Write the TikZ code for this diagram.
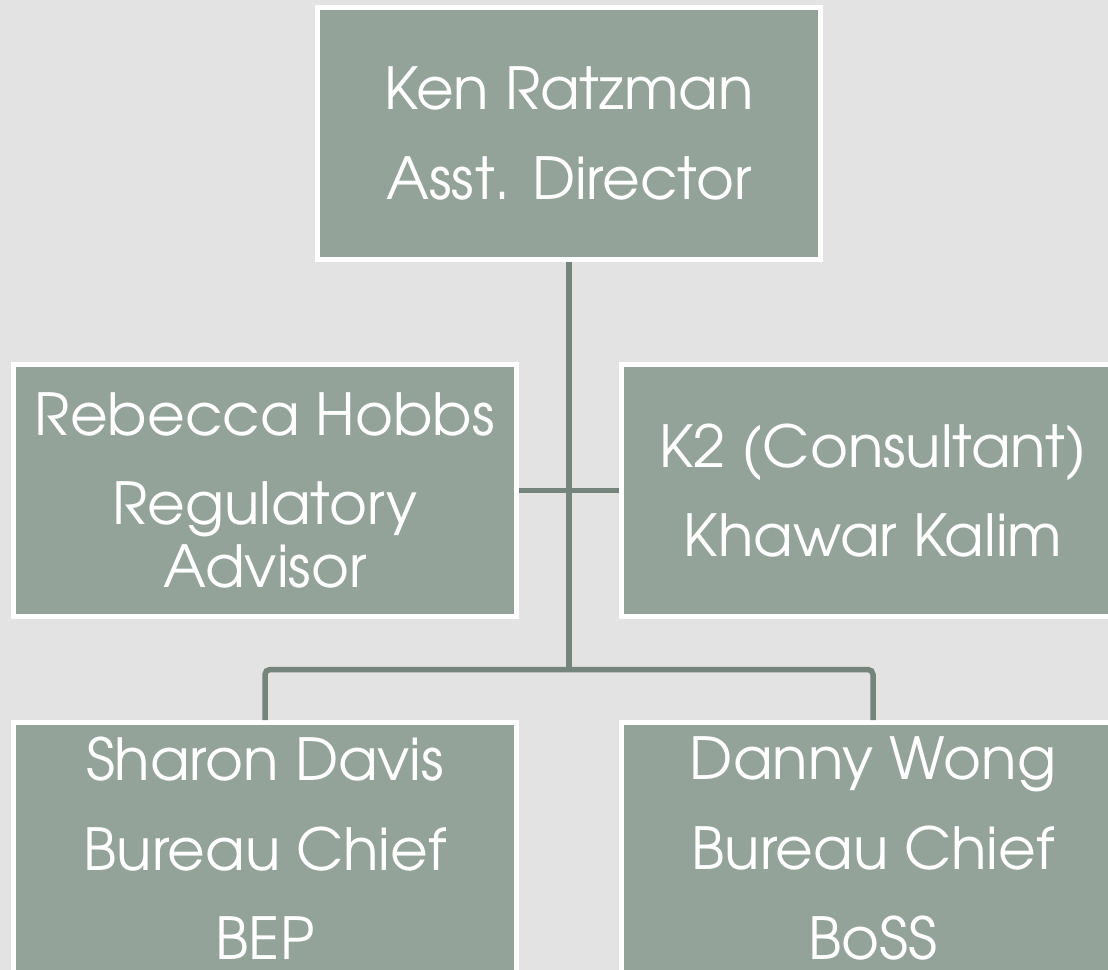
\documentclass[tikz,border=0pt]{standalone}
\usepackage{fontspec}
\setmainfont{TeX Gyre Adventor}
\usepackage{tikz}
\usetikzlibrary{calc}

\definecolor{boxfill}{RGB}{148,163,153}
\definecolor{linkcol}{RGB}{117,132,124}
\definecolor{backcol}{RGB}{227,227,227}

\begin{document}
\begin{tikzpicture}
\tikzstyle{person}=[draw=white,line width=0.1cm,fill=boxfill,text=white,minimum width=10.06cm,minimum height=5.04cm,align=center,font=\fontsize{33}{51}\selectfont]

\tikzstyle{link}=[draw=linkcol,line width=0.11cm,rounded corners=0.1cm]

\useasboundingbox (0,0) rectangle (22.16,-19.4);
\clip (0,0) rectangle (22.16,-19.4);
\fill [backcol] (0,0) rectangle (22.16,-19.4);

\node (top) [person] at (11.38,-2.67) {Ken Ratzman\\Asst. Director};
\node (adv) [person] at (5.30,-9.81) {Rebecca Hobbs\\Regulatory\\[-15pt]Advisor};
\node (cons) [person] at (17.46,-9.81) {K2 (Consultant)\\Khawar Kalim};
\node (bep) [person] at (5.30,-16.97) {Sharon Davis\\Bureau Chief\\BEP};
\node (boss) [person] at (17.46,-16.97) {Danny Wong\\Bureau Chief\\BoSS};

\coordinate (bus) at (top.south |- 0,-13.39);

\draw [link] (top.south) -- (bus);
\draw [link] (adv.east) -- (cons.west);
\draw [link] (bep.north) |- (bus) -| (boss.north);

\end{tikzpicture}
\end{document}
